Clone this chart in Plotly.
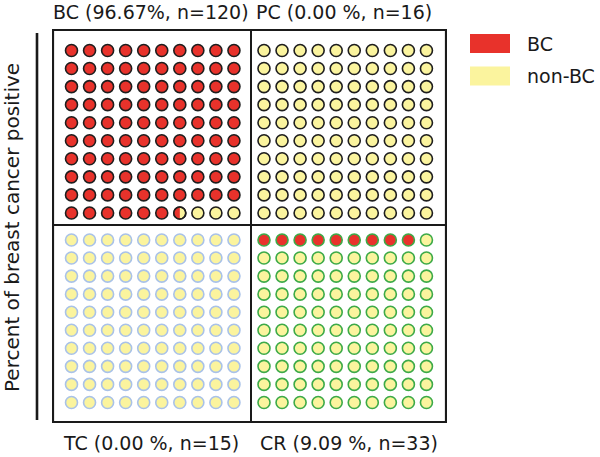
import numpy as np
import plotly.graph_objects as go

# ---------------- data ----------------
groups = ["BC", "PC", "TC", "CR"]
percent_positive = [96.67, 0.00, 0.00, 9.09]
sample_n = [120, 16, 15, 33]
panel_titles = ["BC (96.67%, n=120)", "PC (0.00 %, n=16)",
                "TC (0.00 %, n=15)", "CR (9.09 %, n=33)"]
legend_labels = ["BC", "non-BC"]
y_title = "Percent of breast cancer positive"

# ---------------- layout / style ----------------
W, H = 600, 457
L, T = 52, 29
PW, PH = 395, 394
R, B = W - L - PW, H - T - PH
FONT = "DejaVu Sans"
FS = 19
RED = "#e8322b"
YEL = "#fbf49e"
panel_origin = {"BC": (19.5, 21.5), "PC": (212, 21.5), "TC": (19.5, 211), "CR": (212, 211)}
edge_color = {"BC": "#1e1e1e", "PC": "#1e1e1e", "TC": "#a9c2e8", "CR": "#3daa48"}
title_pos = {"BC": (150.5, 12), "PC": (344, 12), "TC": (151, 443), "CR": (349, 443)}
STEP = 18.05
MSIZE = 12
MLINE = 1.6


def px(xa, ya):
    """absolute pixel -> paper coords"""
    return (xa - L) / PW, 1 - (ya - T) / PH


fig = go.Figure()

for g, pct in zip(groups, percent_positive):
    ox, oy = panel_origin[g]
    idx = np.arange(100)
    cx = ox + (idx % 10) * STEP
    cy = oy + (idx // 10) * STEP
    red_amt = round(pct * 2) / 2.0          # resolution of half a dot
    n_full = int(np.floor(red_amt))
    frac = red_amt - n_full
    red_mask = idx < n_full
    fig.add_trace(go.Scatter(
        x=cx[~red_mask], y=cy[~red_mask], mode="markers", hoverinfo="skip",
        marker=dict(size=MSIZE, color=YEL, line=dict(color=edge_color[g], width=MLINE)),
        showlegend=False))
    if n_full > 0:
        fig.add_trace(go.Scatter(
            x=cx[red_mask], y=cy[red_mask], mode="markers", hoverinfo="skip",
            marker=dict(size=MSIZE, color=RED, line=dict(color=edge_color[g], width=MLINE)),
            showlegend=False))
    if frac > 0:
        px0, py0 = cx[n_full], cy[n_full]
        r = MSIZE / 2.0
        xc = px0 - r + 2 * r * frac
        th = np.linspace(np.pi / 2, 3 * np.pi / 2, 60)
        ax = px0 + r * np.cos(th)
        ay = py0 - r * np.sin(th)
        keep = ax <= xc
        ax, ay = ax[keep], ay[keep]
        hh = np.sqrt(max(r * r - (xc - px0) ** 2, 0))
        hx = np.concatenate([[xc], ax, [xc]])
        hy = np.concatenate([[py0 - hh], ay, [py0 + hh]])
        fig.add_trace(go.Scatter(x=hx, y=hy, mode="lines", fill="toself",
                                 fillcolor=RED, line=dict(width=0, color=RED),
                                 hoverinfo="skip", showlegend=False))
        fig.add_trace(go.Scatter(
            x=[px0], y=[py0], mode="markers", hoverinfo="skip",
            marker=dict(size=MSIZE, color="rgba(0,0,0,0)",
                        line=dict(color=edge_color[g], width=MLINE)),
            showlegend=False))

shapes = []
shapes.append(dict(type="rect", xref="x", yref="y", x0=1, x1=PW - 1, y0=1, y1=PH - 1,
                   line=dict(color="#1a1a1a", width=2.2)))
shapes.append(dict(type="line", xref="x", yref="y", x0=199, x1=199, y0=0, y1=PH,
                   line=dict(color="#1a1a1a", width=2)))
shapes.append(dict(type="line", xref="x", yref="y", x0=0, x1=PW, y0=196, y1=196,
                   line=dict(color="#1a1a1a", width=2)))
x0p, y0p = px(37, 33)
_, y1p = px(37, 420)
shapes.append(dict(type="line", xref="paper", yref="paper", x0=x0p, x1=x0p, y0=y0p, y1=y1p,
                   line=dict(color="#1a1a1a", width=2.6)))

annotations = []
for g, ttl in zip(groups, panel_titles):
    xa, ya = title_pos[g]
    xp, yp = px(xa, ya)
    annotations.append(dict(text=ttl, x=xp, y=yp, xref="paper", yref="paper",
                            xanchor="center", yanchor="middle", showarrow=False,
                            font=dict(family=FONT, size=FS, color="#1a1a1a")))
xp, yp = px(12, 228)
annotations.append(dict(text=y_title, x=xp, y=yp, xref="paper", yref="paper",
                        textangle=-90, xanchor="center", yanchor="middle", showarrow=False,
                        borderpad=0,
                        font=dict(family=FONT, size=20, color="#1a1a1a")))

leg_colors = [RED, YEL]
leg_y = [43.5, 76]
for lab, col, yc in zip(legend_labels, leg_colors, leg_y):
    a0, b0 = px(470, yc - 9.5)
    a1, b1 = px(510, yc + 9.5)
    shapes.append(dict(type="rect", xref="paper", yref="paper", x0=a0, x1=a1, y0=b1, y1=b0,
                       fillcolor=col, line=dict(width=0)))
    tx, ty = px(525, yc)
    annotations.append(dict(text=lab, x=tx, y=ty, xref="paper", yref="paper",
                            xanchor="left", yanchor="middle", showarrow=False,
                            font=dict(family=FONT, size=FS, color="#1a1a1a")))

fig.update_layout(
    width=W, height=H,
    margin=dict(l=L, r=R, t=T, b=B),
    paper_bgcolor="white", plot_bgcolor="white",
    xaxis=dict(range=[0, PW], visible=False, fixedrange=True),
    yaxis=dict(range=[PH, 0], visible=False, fixedrange=True),
    shapes=shapes, annotations=annotations,
    showlegend=False,
)

# remove the default 8px page margin so the figure sits at the window origin
fig.write_html("out.html", config={"displayModeBar": False},
               post_script="document.body.style.margin='0px';")
